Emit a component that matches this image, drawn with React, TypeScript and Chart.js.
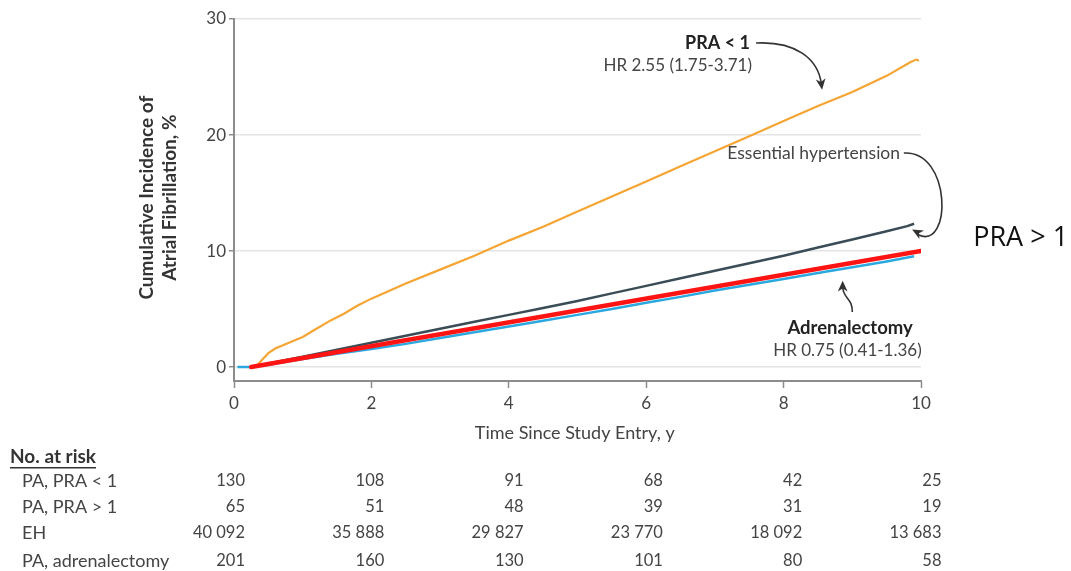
import React, { useEffect, useRef } from "react";
import { Chart, registerables } from "chart.js";

Chart.register(...registerables);

// ---------- data ----------
const praLowX = [0.3, 0.36, 0.42, 0.5, 0.6, 0.8, 1.0, 1.2, 1.4, 1.6, 1.8, 2.0, 2.5, 3.0, 3.5, 4, 4.5, 5, 5.5, 6, 6.5, 7, 7.5, 8, 8.5, 9, 9.5, 9.85, 9.93, 9.97];
const praLowY = [0, 0.3, 0.7, 1.2, 1.6, 2.1, 2.6, 3.3, 4.0, 4.6, 5.3, 5.9, 7.2, 8.4, 9.6, 10.9, 12.1, 13.4, 14.7, 16.0, 17.3, 18.6, 19.9, 21.2, 22.5, 23.7, 25.1, 26.3, 26.5, 26.4];

const ehX = [0.25, 0.5, 1, 1.5, 2, 2.5, 3, 3.5, 4, 4.5, 5, 5.5, 6, 6.5, 7, 7.5, 8, 8.5, 9, 9.5, 9.8, 9.9];
const ehY = [0, 0.3, 0.9, 1.5, 2.1, 2.7, 3.3, 3.9, 4.5, 5.1, 5.7, 6.35, 7.0, 7.65, 8.3, 8.95, 9.6, 10.3, 11.0, 11.7, 12.15, 12.35];

const adrX = [0.05, 0.25, 0.5, 1, 1.5, 2, 2.5, 3, 3.5, 4, 4.5, 5, 5.5, 6, 6.5, 7, 7.5, 8, 8.5, 9, 9.5, 9.9];
const adrY = [0, 0, 0.2, 0.7, 1.15, 1.55, 2.0, 2.5, 3.0, 3.5, 4.0, 4.5, 5.0, 5.55, 6.05, 6.6, 7.1, 7.6, 8.1, 8.6, 9.1, 9.55];

const praHighX = [0.25, 10];
const praHighY = [0, 10];

const xTicks = [0, 2, 4, 6, 8, 10];
const yTicks = [0, 10, 20, 30];

const riskRows = ["PA, PRA < 1", "PA, PRA > 1", "EH", "PA, adrenalectomy"];
const riskPraLow = ["130", "108", "91", "68", "42", "25"];
const riskPraHigh = ["65", "51", "48", "39", "31", "19"];
const riskEH = ["40 092", "35 888", "29 827", "23 770", "18 092", "13 683"];
const riskAdr = ["201", "160", "130", "101", "80", "58"];

const FONT = "Lato, 'Open Sans', sans-serif";
const AXIS = "#8c8c8c";

const pts = (xs: number[], ys: number[]) => xs.map((x, i) => ({ x, y: ys[i] }));

function arrowHead(ctx: CanvasRenderingContext2D, tx: number, ty: number, fx: number, fy: number, size = 11) {
  const a = Math.atan2(ty - fy, tx - fx);
  const back = (ang: number, len: number) => [tx - len * Math.cos(a + ang), ty - len * Math.sin(a + ang)];
  const [lx, ly] = back(0.42, size);
  const [rx, ry] = back(-0.42, size);
  const [nx, ny] = back(0, size * 0.65);
  ctx.beginPath();
  ctx.moveTo(tx, ty);
  ctx.lineTo(lx, ly);
  ctx.lineTo(nx, ny);
  ctx.lineTo(rx, ry);
  ctx.closePath();
  ctx.fill();
}

const annotPlugin = {
  id: "annot",
  afterDraw(chart: any) {
    const ctx: CanvasRenderingContext2D = chart.ctx;
    const xs = chart.scales.x;
    const ys = chart.scales.y;
    const X = (v: number) => xs.getPixelForValue(v);
    const Y = (v: number) => ys.getPixelForValue(v);
    const area = chart.chartArea;
    ctx.save();
    ctx.textBaseline = "middle";

    // y-axis title
    const yTitle = (txt: string, dx: number) => {
      ctx.save();
      ctx.fillStyle = "#333";
      ctx.font = `bold 19px ${FONT}`;
      ctx.textAlign = "center";
      ctx.translate(area.left - dx, Y(14.6));
      ctx.rotate(-Math.PI / 2);
      ctx.fillText(txt, 0, 0);
      ctx.restore();
    };
    yTitle("Cumulative Incidence of", 87);
    yTitle("Atrial Fibrillation, %", 64);

    // x-axis title
    ctx.fillStyle = "#444";
    ctx.font = `18px ${FONT}`;
    ctx.textAlign = "center";
    ctx.fillText("Time Since Study Entry, y", X(4.96), area.bottom + 52);

    // annotations
    ctx.fillStyle = "#222";
    ctx.textAlign = "right";
    ctx.font = `bold 18px ${FONT}`;
    ctx.fillText("PRA < 1", X(7.51), Y(27.93));
    ctx.fillStyle = "#444";
    ctx.font = `17px ${FONT}`;
    ctx.fillText("HR 2.55 (1.75-3.71)", X(7.54), Y(26.03));

    ctx.font = `17.5px ${FONT}`;
    ctx.textAlign = "left";
    ctx.fillText("Essential hypertension", X(7.18), Y(18.45));

    ctx.textAlign = "right";
    ctx.fillStyle = "#222";
    ctx.font = `bold 18.5px ${FONT}`;
    ctx.fillText("Adrenalectomy", X(9.88), Y(3.36));
    ctx.fillStyle = "#444";
    ctx.font = `17px ${FONT}`;
    ctx.fillText("HR 0.75 (0.41-1.36)", X(10.01), Y(1.47));

    ctx.textAlign = "left";
    ctx.fillStyle = "#111";
    ctx.font = `27px 'Open Sans', sans-serif`;
    ctx.fillText("PRA > 1", X(10.76), Y(11.1));

    // arrows
    ctx.strokeStyle = "#333";
    ctx.fillStyle = "#333";
    ctx.lineWidth = 1.6;
    // PRA < 1
    ctx.beginPath();
    ctx.moveTo(X(7.6), Y(27.93));
    ctx.bezierCurveTo(X(8.17), Y(28.1), X(8.5), Y(26.6), X(8.55), Y(24.4));
    ctx.stroke();
    arrowHead(ctx, X(8.56), Y(23.9), X(8.5), Y(26.6), 12);
    // Essential hypertension
    ctx.beginPath();
    ctx.moveTo(X(9.75), Y(18.45));
    ctx.bezierCurveTo(X(10.45), Y(18.7), X(10.45), Y(10.0), X(9.96), Y(11.4));
    ctx.stroke();
    arrowHead(ctx, X(9.87), Y(11.85), X(10.3), Y(10.5), 12);
    // Adrenalectomy
    ctx.beginPath();
    ctx.moveTo(X(9.0), Y(4.74));
    ctx.bezierCurveTo(X(9.01), Y(5.95), X(8.85), Y(5.95), X(8.86), Y(7.0));
    ctx.stroke();
    arrowHead(ctx, X(8.86), Y(7.45), X(8.86), Y(6.0), 12);

    // number at risk table
    ctx.fillStyle = "#333";
    ctx.font = `bold 19px ${FONT}`;
    ctx.textAlign = "left";
    const nTop = area.bottom + 76;
    ctx.fillText("No. at risk", 10, nTop);
    const w = ctx.measureText("No. at risk").width;
    ctx.fillRect(10, nTop + 10, w, 1.5);

    const rowsY = [100, 126, 152, 180].map((d) => area.bottom + d);
    const data = [riskPraLow, riskPraHigh, riskEH, riskAdr];
    ctx.fillStyle = "#444";
    riskRows.forEach((lab, r) => {
      ctx.font = `18px ${FONT}`;
      ctx.textAlign = "left";
      ctx.fillText(lab, 22, rowsY[r]);
      ctx.font = `16.5px ${FONT}`;
      ctx.textAlign = "right";
      data[r].forEach((txt, i) => {
        ctx.fillText(txt, X(xTicks[i]) + 11 + 1.9 * i, rowsY[r]);
      });
    });
    ctx.restore();
  },
};

export default function App() {
  const ref = useRef<HTMLCanvasElement | null>(null);
  useEffect(() => {
    document.body.style.margin = "0";
    const canvas = ref.current!;
    const tickFont = { family: FONT, size: 17 };
    const chart = new Chart(canvas, {
      type: "line",
      data: {
        datasets: [
          { label: "PRA > 1", data: pts(praHighX, praHighY), borderColor: "#ff1414", borderWidth: 4.5, pointRadius: 0, order: 0, borderCapStyle: "round" },
          { label: "Essential hypertension", data: pts(ehX, ehY), borderColor: "#3a4c56", borderWidth: 2.5, pointRadius: 0, order: 1 },
          { label: "Adrenalectomy", data: pts(adrX, adrY), borderColor: "#2aa8e0", borderWidth: 2.5, pointRadius: 0, order: 2 },
          { label: "PRA < 1", data: pts(praLowX, praLowY), borderColor: "#f5a534", borderWidth: 2.2, pointRadius: 0, order: 3 },
        ],
      } as any,
      options: {
        animation: false,
        responsive: false,
        layout: { padding: { top: 19, right: 150, left: 0, bottom: 0 } },
        plugins: { legend: { display: false }, tooltip: { enabled: false } },
        scales: {
          x: {
            type: "linear",
            min: 0,
            max: 10,
            afterBuildTicks: (s: any) => { s.ticks = xTicks.map((v) => ({ value: v })); },
            afterFit: (s: any) => { s.height = 190; },
            ticks: { font: tickFont, color: "#444", padding: 5, maxRotation: 0 },
            grid: { drawOnChartArea: false, drawTicks: true, tickLength: 7, tickColor: AXIS, tickWidth: 1.5 },
            border: { color: AXIS, width: 2 },
          },
          y: {
            type: "linear",
            min: -1.2,
            max: 30,
            afterBuildTicks: (s: any) => { s.ticks = yTicks.map((v) => ({ value: v })); },
            afterFit: (s: any) => { s.width = 234; },
            ticks: { font: tickFont, color: "#444", padding: 3 },
            grid: { color: "#e4e4e4", lineWidth: 1.5, drawTicks: true, tickLength: 5, tickColor: AXIS, tickWidth: 1.5 },
            border: { color: AXIS, width: 2 },
          },
        },
      } as any,
      plugins: [annotPlugin],
    });
    return () => chart.destroy();
  }, []);
  return (
    <div style={{ position: "absolute", left: 0, top: 0, width: 1071, height: 571, background: "#fff" }}>
      <canvas ref={ref} width={1071} height={571} style={{ display: "block" }} />
    </div>
  );
}
